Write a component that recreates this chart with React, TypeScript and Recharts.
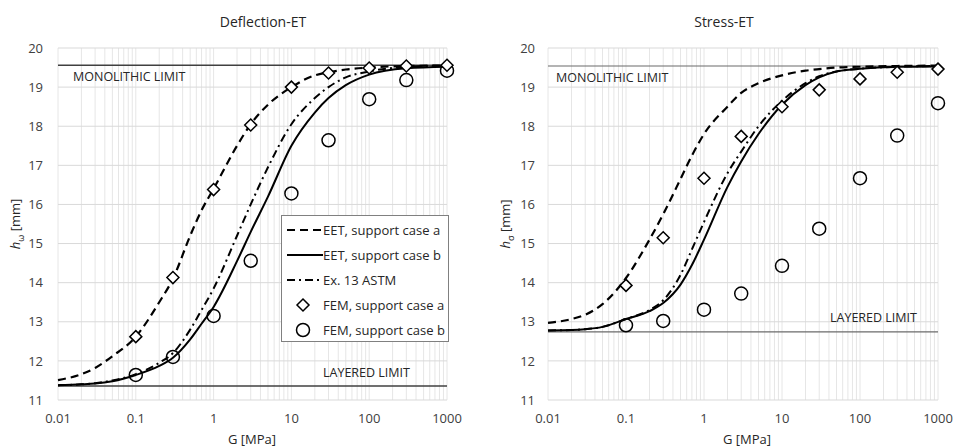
import React from "react";
import {
  ComposedChart,
  Line,
  Scatter,
  XAxis,
  YAxis,
  CartesianGrid,
  ReferenceLine,
  Legend,
} from "recharts";

// G [MPa] sampling of the analytical curves and of the FEM runs
const curveG = [0.01, 0.02, 0.03, 0.05, 0.1, 0.2, 0.3, 0.5, 0.7, 1, 2, 3, 5, 10, 20, 30, 50, 100, 300, 1000];
const femG = [0.1, 0.3, 1, 3, 10, 30, 100, 300, 1000];

const majorTicks = [0.01, 0.1, 1, 10, 100, 1000];
const yTicks = [11, 12, 13, 14, 15, 16, 17, 18, 19, 20];

// Deflection-ET
const deflEetA = [11.51, 11.66, 11.82, 12.12, 12.62, 13.5, 14.1, 15.2, 15.85, 16.4, 17.5, 18.05, 18.55, 19.0, 19.3, 19.38, 19.45, 19.5, 19.54, 19.55];
const deflEetB = [11.38, 11.4, 11.42, 11.48, 11.64, 11.87, 12.08, 12.55, 12.95, 13.38, 14.55, 15.3, 16.2, 17.5, 18.35, 18.72, 19.05, 19.32, 19.48, 19.52];
const deflAstm = [11.38, 11.4, 11.43, 11.5, 11.66, 11.95, 12.2, 12.8, 13.3, 13.85, 15.2, 16.0, 16.95, 18.05, 18.72, 19.0, 19.25, 19.4, 19.52, 19.55];
const deflFemA = [12.62, 14.13, 16.38, 18.03, 19.0, 19.36, 19.49, 19.54, 19.56];
const deflFemB = [11.64, 12.1, 13.15, 14.56, 16.28, 17.64, 18.69, 19.18, 19.42];
const deflLimits = { monolithic: 19.56, layered: 11.36 };

// Stress-ET
const stressEetA = [12.97, 13.07, 13.18, 13.45, 14.12, 15.1, 15.75, 16.65, 17.25, 17.8, 18.5, 18.85, 19.1, 19.3, 19.42, 19.46, 19.5, 19.52, 19.54, 19.55];
const stressEetB = [12.78, 12.79, 12.81, 12.87, 13.07, 13.27, 13.48, 13.95, 14.45, 15.1, 16.45, 17.1, 17.8, 18.55, 19.05, 19.25, 19.4, 19.47, 19.52, 19.53];
const stressAstm = [12.78, 12.79, 12.81, 12.87, 13.07, 13.3, 13.55, 14.2, 14.85, 15.55, 16.8, 17.35, 18.0, 18.65, 19.1, 19.28, 19.4, 19.47, 19.52, 19.54];
const stressFemA = [13.93, 15.15, 16.67, 17.74, 18.5, 18.93, 19.21, 19.38, 19.46];
const stressFemB = [12.91, 13.02, 13.31, 13.72, 14.43, 15.38, 16.67, 17.76, 18.59];
const stressLimits = { monolithic: 19.54, layered: 12.74 };

// minor log gridlines: 1..9 x each decade
const gridTicks = majorTicks
  .slice(0, -1)
  .flatMap((d) => [1, 2, 3, 4, 5, 6, 7, 8, 9].map((m) => d * m))
  .concat([1000]);

const toPoints = (xs: number[], ys: number[]) => xs.map((x, i) => ({ x, y: ys[i] }));

const FONT = "'Open Sans', sans-serif";
const DASH = "8 5";
const DASH_DOT = "8 4 2 4";

const Diamond = (props: any) => {
  const { cx, cy } = props;
  const s = 6;
  return (
    <path
      d={`M${cx},${cy - s}L${cx + s},${cy}L${cx},${cy + s}L${cx - s},${cy}Z`}
      fill="#fff"
      stroke="#000"
      strokeWidth={1.5}
    />
  );
};

const Ring = (props: any) => (
  <circle cx={props.cx} cy={props.cy} r={6.5} fill="none" stroke="#000" strokeWidth={1.5} />
);

const LimitLabel = (props: any) => {
  const { viewBox, text, dx, dy } = props;
  if (!viewBox) return null;
  return (
    <text x={viewBox.x + dx} y={viewBox.y + dy} fontSize={12.5} fontFamily={FONT} fill="#262626">
      {text}
    </text>
  );
};

const legendRows = [
  { label: "EET, support case a", dash: DASH },
  { label: "EET, support case b", dash: undefined },
  { label: "Ex. 13 ASTM", dash: DASH_DOT },
  { label: "FEM, support case a", marker: "diamond" },
  { label: "FEM, support case b", marker: "circle" },
];

function LegendBox() {
  return (
    <div
      style={{
        width: 168,
        height: 127,
        boxSizing: "border-box",
        border: "1px solid #808080",
        background: "#fff",
        fontFamily: FONT,
        fontSize: 13,
        color: "#262626",
        paddingTop: 1,
      }}
    >
      {legendRows.map((r) => (
        <div key={r.label} style={{ height: 25.2, display: "flex", alignItems: "center" }}>
          <svg width={41} height={16} style={{ flex: "0 0 auto" }}>
            {r.marker === "diamond" && <Diamond cx={21} cy={8} />}
            {r.marker === "circle" && <Ring cx={21} cy={8} />}
            {!r.marker && (
              <line x1={5} x2={41} y1={8} y2={8} stroke="#000" strokeWidth={2} strokeDasharray={r.dash} />
            )}
          </svg>
          <span style={{ whiteSpace: "nowrap" }}>{r.label}</span>
        </div>
      ))}
    </div>
  );
}

type PanelProps = {
  left: number;
  yAxisWidth: number;
  rightMargin: number;
  tickMargin: number;
  eetA: number[];
  eetB: number[];
  astm: number[];
  femA: number[];
  femB: number[];
  limits: { monolithic: number; layered: number };
  labels: { monoDx: number; monoDy: number; layDx: number; layDy: number };
  limitStroke: string;
  limitWidth: number;
  legend?: boolean;
};

function Panel(p: PanelProps) {
  const tick = { fontSize: 13, fill: "#404040", fontFamily: FONT };
  return (
    <div style={{ position: "absolute", left: p.left, top: 0 }}>
      <ComposedChart width={477} height={448} margin={{ top: 48, right: p.rightMargin, left: 0, bottom: 0 }}>
        <CartesianGrid horizontal={false} stroke="#e6e6e6" strokeWidth={1} />
        <CartesianGrid vertical={false} stroke="#d9d9d9" strokeWidth={1} />
        <XAxis
          type="number"
          dataKey="x"
          scale="log"
          domain={[0.01, 1000]}
          ticks={gridTicks}
          interval={0}
          tickFormatter={(v: number) => (majorTicks.includes(v) ? String(v) : "")}
          axisLine={false}
          tickLine={false}
          tickSize={0}
          tickMargin={14}
          height={48}
          tick={tick}
        />
        <YAxis
          type="number"
          domain={[11, 20]}
          ticks={yTicks}
          interval={0}
          axisLine={false}
          tickLine={false}
          tickSize={0}
          tickMargin={p.tickMargin}
          width={p.yAxisWidth}
          tick={tick}
        />
        <ReferenceLine
          y={p.limits.monolithic}
          stroke={p.limitStroke}
          strokeWidth={p.limitWidth}
          label={<LimitLabel text="MONOLITHIC LIMIT" dx={p.labels.monoDx} dy={p.labels.monoDy} />}
        />
        <ReferenceLine
          y={p.limits.layered}
          stroke={p.limitStroke}
          strokeWidth={p.limitWidth}
          label={<LimitLabel text="LAYERED LIMIT" dx={p.labels.layDx} dy={p.labels.layDy} />}
        />
        <Line
          data={toPoints(curveG, p.astm)}
          dataKey="y"
          type="monotone"
          dot={false}
          stroke="#000"
          strokeWidth={2}
          strokeDasharray={DASH_DOT}
          isAnimationActive={false}
        />
        <Line
          data={toPoints(curveG, p.eetB)}
          dataKey="y"
          type="monotone"
          dot={false}
          stroke="#000"
          strokeWidth={2}
          isAnimationActive={false}
        />
        <Line
          data={toPoints(curveG, p.eetA)}
          dataKey="y"
          type="monotone"
          dot={false}
          stroke="#000"
          strokeWidth={2.2}
          strokeDasharray={DASH}
          isAnimationActive={false}
        />
        <Scatter data={toPoints(femG, p.femB)} dataKey="y" shape={Ring} isAnimationActive={false} />
        <Scatter data={toPoints(femG, p.femA)} dataKey="y" shape={Diamond} isAnimationActive={false} />
        {p.legend && (
          <Legend
            layout="vertical"
            verticalAlign="middle"
            align="center"
            wrapperStyle={{ left: 281, top: 215, width: 168, height: 127 }}
            content={() => <LegendBox />}
          />
        )}
      </ComposedChart>
    </div>
  );
}

const textStyle: React.CSSProperties = {
  position: "absolute",
  fontFamily: FONT,
  color: "#262626",
  whiteSpace: "nowrap",
  lineHeight: 1,
  transform: "translate(-50%, -50%)",
};

export default function App() {
  return (
    <div style={{ position: "absolute", left: 0, top: 0, width: 954, height: 448, background: "#fff", overflow: "hidden" }}>
      <Panel
        left={0}
        yAxisWidth={58}
        rightMargin={30}
        tickMargin={15}
        eetA={deflEetA}
        eetB={deflEetB}
        astm={deflAstm}
        femA={deflFemA}
        femB={deflFemB}
        limits={deflLimits}
        labels={{ monoDx: 15, monoDy: 16, layDx: 265, layDy: -9 }}
        limitStroke="#404040"
        limitWidth={1.5}
        legend
      />
      <Panel
        left={477}
        yAxisWidth={71}
        rightMargin={16}
        tickMargin={13}
        eetA={stressEetA}
        eetB={stressEetB}
        astm={stressAstm}
        femA={stressFemA}
        femB={stressFemB}
        limits={stressLimits}
        labels={{ monoDx: 8, monoDy: 16, layDx: 282, layDy: -9.5 }}
        limitStroke="#6b6b6b"
        limitWidth={1.2}
      />
      <div style={{ ...textStyle, left: 263, top: 22, fontSize: 14 }}>Deflection-ET</div>
      <div style={{ ...textStyle, left: 724, top: 22, fontSize: 14 }}>Stress-ET</div>
      <div style={{ ...textStyle, left: 252, top: 439, fontSize: 13 }}>G [MPa]</div>
      <div style={{ ...textStyle, left: 747, top: 439, fontSize: 13 }}>G [MPa]</div>
      <div style={{ ...textStyle, left: 17, top: 224, fontSize: 13, transform: "translate(-50%, -50%) rotate(-90deg)" }}>
        <i>h</i>
        <sub style={{ fontSize: 9 }}>ω</sub> [mm]
      </div>
      <div style={{ ...textStyle, left: 507, top: 224, fontSize: 13, transform: "translate(-50%, -50%) rotate(-90deg)" }}>
        <i>h</i>
        <sub style={{ fontSize: 9 }}>σ</sub> [mm]
      </div>
    </div>
  );
}
